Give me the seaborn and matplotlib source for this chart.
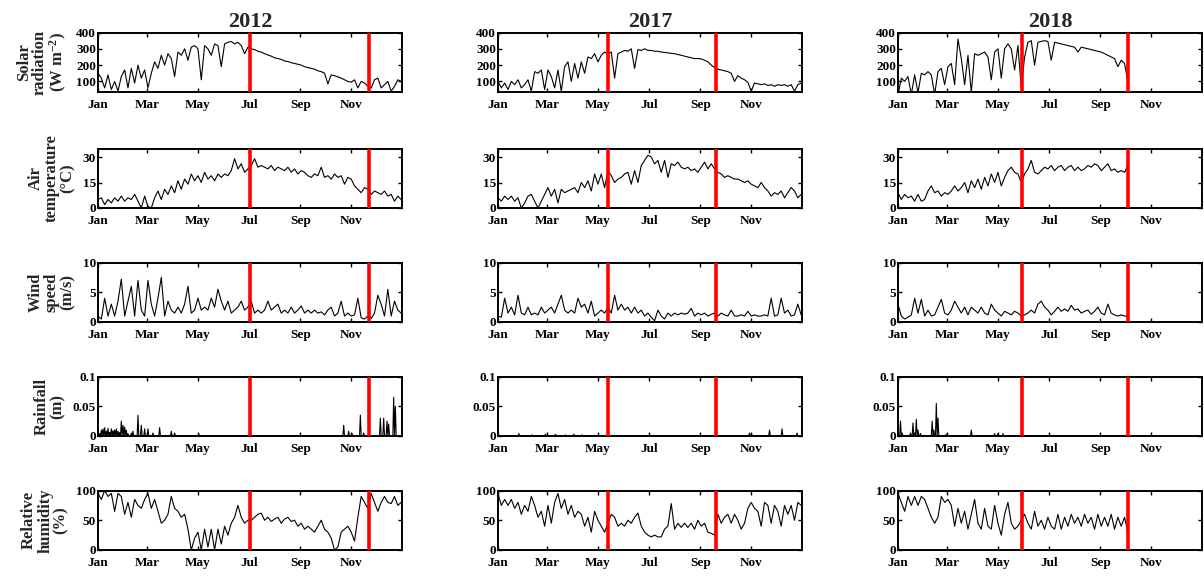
import numpy as np
import pandas as pd
import matplotlib
matplotlib.use("Agg")
import matplotlib.pyplot as plt
import seaborn as sns

# ---------------- data ----------------
years = ["2012", "2017", "2018"]
month_labels = ["Jan", "Mar", "May", "Jul", "Sep", "Nov"]
month_days = [1, 60, 121, 182, 244, 305]
step_days = 4                        # sampling step of the read-off series
year_len = {"2012": 366, "2017": 365, "2018": 277}
red_days = {"2012": [183, 326], "2017": [133, 263], "2018": [150, 277]}

solar_2012 = [150,120,60,140,50,100,40,130,170,60,
              180,90,200,120,170,60,150,220,180,260,
              200,270,240,130,280,260,300,230,310,320,
              300,110,320,300,260,330,320,190,330,340,
              345,330,340,320,270,310,300,295,285,280,
              270,262,255,245,240,235,225,222,215,210,
              205,200,190,185,180,175,165,160,150,85,
              140,135,128,120,110,100,95,110,60,100,
              90,70,60,110,120,60,80,100,40,70,
              110,100]
solar_2017 = [100,60,90,50,100,80,110,60,80,110,
              40,160,150,170,50,170,130,60,170,40,
              190,220,100,210,120,220,150,250,240,270,
              220,260,280,270,280,120,270,280,290,285,
              300,180,295,290,300,290,290,285,285,280,
              278,275,272,270,265,260,255,250,245,240,
              240,238,230,220,200,185,175,170,165,160,
              150,100,135,120,110,95,40,90,85,80,
              85,75,80,70,80,75,80,70,80,40,
              80,90]
solar_2018 = [20,120,100,130,20,140,30,150,140,160,
              140,20,160,180,80,190,210,80,360,240,
              80,260,30,270,260,270,280,250,110,280,
              300,120,300,330,300,170,320,60,250,340,
              350,200,340,345,350,345,230,340,335,330,
              325,320,315,310,280,310,305,300,295,290,
              285,280,270,260,250,240,190,230,210,100]

temp_2012 = [5,6,2,5,3,6,4,7,4,6,
             5,8,4,0,7,1,0,6,10,5,
             11,8,13,9,16,11,17,14,20,16,
             19,15,21,17,19,16,20,18,20,19,
             22,29,23,26,21,23,25,29,24,25,
             24,23,25,22,24,23,22,24,21,23,
             20,22,21,19,18,20,19,24,18,19,
             17,20,18,19,14,18,17,13,11,9,
             12,11,8,10,9,8,10,7,8,4,
             7,5]
temp_2017 = [6,4,7,5,7,4,6,0,3,7,
             8,4,0,4,8,12,7,11,3,11,
             9,10,11,12,9,15,12,16,10,20,
             14,20,12,22,19,15,17,18,20,21,
             14,22,15,25,28,31,30,26,28,21,
             28,18,26,25,27,24,23,24,22,23,
             21,24,27,23,26,23,21,20,18,19,
             18,17,17,16,15,16,14,13,12,15,
             12,10,7,9,8,10,6,9,12,10,
             6,8]
temp_2018 = [9,5,8,6,7,4,8,4,5,10,
             13,9,10,7,9,8,10,13,10,12,
             15,9,16,12,17,11,18,13,20,15,
             21,13,18,22,24,21,20,15,20,23,
             28,21,20,22,24,23,25,22,24,25,
             22,24,25,22,24,22,23,25,24,26,
             25,22,24,26,22,23,21,22,21,25]

wind_2012 = [1.0,0.5,4.0,1.0,3.0,1.0,3.5,7.2,1.0,3.5,
             6.0,1.0,7.0,2.0,1.0,7.0,3.0,1.0,4.0,7.5,
             1.0,3.5,2.0,1.5,2.5,1.5,3.0,6.0,1.5,2.0,
             4.0,2.0,2.5,2.0,4.0,2.5,5.5,3.5,2.0,3.5,
             1.5,2.0,2.5,3.5,2.0,2.5,3.5,1.5,2.0,1.5,
             2.0,3.5,2.0,2.5,3.0,1.5,2.0,1.5,2.5,1.5,
             2.0,2.7,1.5,2.0,1.5,2.0,1.5,1.7,1.2,2.0,
             2.5,1.0,1.5,3.5,1.0,1.5,1.0,1.2,4.0,0.7,
             0.5,1.0,0.6,1.5,4.5,3.0,1.0,5.5,1.0,3.5,
             2.0,1.5]
wind_2017 = [1.0,0.8,4.0,1.5,2.5,1.2,4.5,1.5,1.2,2.5,
             1.2,1.5,1.2,2.5,1.5,2.0,2.5,1.5,3.0,4.5,
             2.0,1.5,2.0,1.5,4.0,2.5,3.0,1.5,3.5,1.0,
             1.5,2.0,1.5,2.5,1.5,4.5,2.0,3.0,2.0,2.5,
             1.5,2.5,1.5,2.0,1.0,1.5,0.8,0.2,2.0,1.0,
             0.5,1.5,1.0,1.5,1.2,1.5,1.3,1.5,2.3,1.0,
             1.5,1.2,1.5,1.0,1.3,1.5,1.0,1.5,1.2,1.0,
             2.0,1.0,1.0,1.2,1.0,1.8,1.0,1.2,1.0,1.0,
             1.2,1.0,4.0,1.0,1.2,4.0,1.5,2.0,1.0,1.2,
             3.0,1.2]
wind_2018 = [3.0,1.0,0.5,0.8,1.2,4.0,1.5,3.8,1.0,2.0,
             1.0,1.2,2.5,3.8,1.5,1.2,2.0,3.5,2.5,1.5,
             2.5,1.2,2.5,2.0,1.5,2.5,1.5,1.2,3.0,2.0,
             1.5,1.0,1.8,1.5,1.2,1.8,1.5,1.0,1.2,1.5,
             2.0,1.5,3.0,3.5,2.5,2.0,1.2,1.8,2.5,1.8,
             2.2,1.8,2.8,2.0,2.2,1.5,1.8,2.0,1.3,1.8,
             2.5,1.5,1.2,3.0,1.5,1.2,1.0,1.2,1.0,1.0]

rain_days_2012 = [3,5,7,9,11,13,15,17,19,21,23,25,27,29,31,33,35,37,41,43,49,53,57,61,67,75,89,93,123,
                  296,302,306,316,320,340,344,348,350,356,358]
rain_vals_2012 = [0.004,0.010,0.012,0.014,0.008,0.013,0.006,0.012,0.009,0.010,0.012,0.008,0.006,0.025,
                  0.018,0.015,0.010,0.004,0.005,0.008,0.035,0.018,0.012,0.012,0.005,0.014,0.008,0.005,0.002,
                  0.018,0.008,0.004,0.035,0.005,0.030,0.030,0.025,0.020,0.065,0.050]
rain_days_2017 = [26,42,58,70,82,92,102,141,303,306,327,342,360]
rain_vals_2017 = [0.004,0.002,0.003,0.003,0.002,0.003,0.002,0.001,0.005,0.002,0.010,0.012,0.005]
rain_days_2018 = [4,6,16,19,21,23,25,28,42,44,47,49,59,89,117,121,127]
rain_vals_2018 = [0.025,0.005,0.005,0.022,0.005,0.028,0.010,0.004,0.025,0.010,0.055,0.030,0.003,
                  0.010,0.004,0.004,0.004]

rh_2012 = [95,85,100,90,95,65,95,90,60,80,
           55,85,75,70,85,95,70,85,65,45,
           50,60,90,70,65,55,60,35,0,20,
           30,0,35,5,35,0,35,10,40,25,
           45,55,75,55,45,50,50,55,60,62,
           50,55,48,52,55,45,52,55,48,50,
           40,45,35,40,35,30,40,50,35,30,
           20,0,5,30,35,40,30,15,55,90,
           80,70,95,80,65,80,90,80,78,90,
           75,80]
rh_2017 = [95,75,85,75,85,70,80,60,75,65,
           90,75,55,65,40,75,45,80,95,70,
           85,60,75,55,65,60,40,55,30,65,
           50,40,30,45,60,55,40,45,40,50,
           45,55,62,40,30,25,22,25,22,22,
           35,40,78,35,45,38,45,38,45,35,
           50,40,45,30,28,25,60,45,55,60,
           45,60,50,35,45,70,80,70,65,40,
           80,75,45,75,65,40,75,60,75,50,
           80,75]
rh_2018 = [95,80,65,90,75,90,75,90,85,70,
           55,45,55,90,80,85,75,40,70,45,
           65,35,60,85,45,35,70,40,35,75,
           45,25,60,80,45,35,40,50,60,45,
           35,65,40,50,35,55,40,35,60,35,
           55,40,60,45,55,40,60,45,55,35,
           60,40,55,40,60,35,55,40,55,30]

ylabels = ["Solar\nradiation\n(W m$^{\\mathbf{-2}}$)", "Air\ntemperature\n(\u00b0C)",
           "Wind\nspeed\n(m/s)", "Rainfall\n(m)", "Relative\nhumidity\n(%)"]
yticks = [[100, 200, 300, 400], [0, 15, 30], [0, 5, 10], [0, 0.05, 0.1], [0, 50, 100]]
yticklabels = [["100", "200", "300", "400"], ["0", "15", "30"], ["0", "5", "10"],
               ["0", "0.05", "0.1"], ["0", "50", "100"]]
ylims = [(35, 400), (0, 35), (0, 10), (0, 0.1), (0, 100)]

series = {
    "2012": [solar_2012, temp_2012, wind_2012, (rain_days_2012, rain_vals_2012), rh_2012],
    "2017": [solar_2017, temp_2017, wind_2017, (rain_days_2017, rain_vals_2017), rh_2017],
    "2018": [solar_2018, temp_2018, wind_2018, (rain_days_2018, rain_vals_2018), rh_2018],
}

# ---------------- styling ----------------
sns.set_theme(style="ticks")
plt.rcParams['font.family'] = ['Liberation Serif', 'DejaVu Serif']
plt.rcParams['font.weight'] = 'bold'
plt.rcParams['axes.labelweight'] = 'bold'
plt.rcParams['axes.titleweight'] = 'bold'
plt.rcParams['mathtext.fontset'] = 'custom'
plt.rcParams['mathtext.rm'] = 'Liberation Serif:bold'
plt.rcParams['mathtext.bf'] = 'Liberation Serif:bold'
plt.rcParams['mathtext.it'] = 'Liberation Serif:bold'

fig = plt.figure(figsize=(12.04, 5.76), dpi=100)

W, H = 1204.0, 576.0
col_left = [98, 498, 898]
ax_w = 304
row_bottom = [92, 208, 322, 436, 550]
ax_h = 59.5

for c, yr in enumerate(years):
    for r in range(5):
        ax = fig.add_axes([col_left[c] / W, 1 - row_bottom[r] / H, ax_w / W, ax_h / H])
        data = series[yr][r]
        if r == 3:
            days_full = np.arange(1, year_len[yr] + 1)
            vals = np.zeros(len(days_full))
            rd, rv = data
            vals[np.array(rd) - 1] = rv
            df = pd.DataFrame({"day": days_full, "val": vals})
        else:
            days = 1 + step_days * np.arange(len(data))
            df = pd.DataFrame({"day": days, "val": data})
        sns.lineplot(data=df, x="day", y="val", ax=ax, color="black", linewidth=0.8)
        for d in red_days[yr]:
            ax.axvline(d, color="#ff0000", linewidth=2.6, zorder=5)
        ax.set_xlim(1, 366)
        ax.set_ylim(*ylims[r])
        ax.set_xticks(month_days)
        ax.set_xticklabels(month_labels)
        ax.set_yticks(yticks[r])
        ax.set_yticklabels(yticklabels[r])
        ax.tick_params(direction="in", top=True, right=True, length=3, width=1,
                       labelsize=9.5, colors="black")
        ax.tick_params(axis="x", pad=5)
        ax.tick_params(axis="y", pad=1.5)
        for s in ax.spines.values():
            s.set_linewidth(1.4)
            s.set_color("black")
        ax.set_xlabel("")
        if c == 0:
            ax.set_ylabel(ylabels[r], fontsize=12, fontweight="bold", linespacing=1.0, labelpad=5)
        else:
            ax.set_ylabel("")
        if r == 0:
            ax.set_title(yr, fontsize=16, fontweight="bold", pad=4)

fig.savefig("out.png", dpi=100)
